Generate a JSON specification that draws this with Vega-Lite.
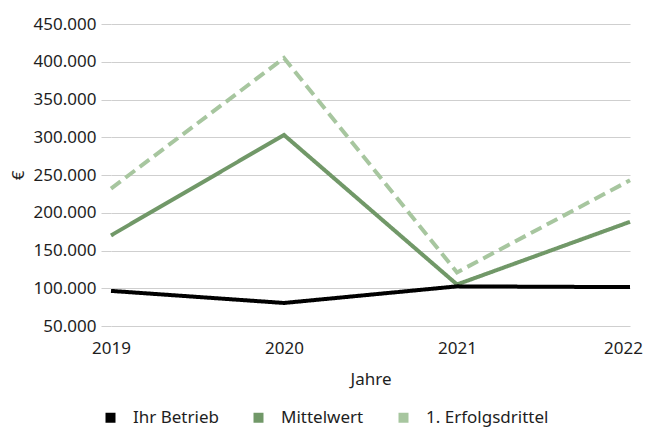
{
  "$schema": "https://vega.github.io/schema/vega-lite/v6.json",
  "autosize": {"type": "none"},
  "width": 519,
  "height": 302,
  "padding": {"left": 111, "top": 24, "right": 16, "bottom": 101},
  "background": "white",
  "config": {
    "font": "Noto Sans",
    "view": {"stroke": null},
    "locale": {"number": {"decimal": ",", "thousands": ".", "grouping": [3], "currency": ["", " €"]}},
    "axis": {"labelFontSize": 17, "titleFontSize": 17, "labelColor": "#1e1e1e", "titleColor": "#1e1e1e", "titleFontWeight": "normal", "labelFont": "Noto Sans", "titleFont": "Noto Sans"},
    "legend": {"labelFontSize": 17, "labelColor": "#1e1e1e", "labelFont": "Noto Sans"}
  },
  "data": {
    "values": [
      {"Jahr": "2019", "Serie": "1. Erfolgsdrittel", "Wert": 232000},
      {"Jahr": "2020", "Serie": "1. Erfolgsdrittel", "Wert": 405000},
      {"Jahr": "2021", "Serie": "1. Erfolgsdrittel", "Wert": 121000},
      {"Jahr": "2022", "Serie": "1. Erfolgsdrittel", "Wert": 243000},
      {"Jahr": "2019", "Serie": "Mittelwert", "Wert": 170000},
      {"Jahr": "2020", "Serie": "Mittelwert", "Wert": 303000},
      {"Jahr": "2021", "Serie": "Mittelwert", "Wert": 105000},
      {"Jahr": "2022", "Serie": "Mittelwert", "Wert": 188000},
      {"Jahr": "2019", "Serie": "Ihr Betrieb", "Wert": 96500},
      {"Jahr": "2020", "Serie": "Ihr Betrieb", "Wert": 80500},
      {"Jahr": "2021", "Serie": "Ihr Betrieb", "Wert": 102500},
      {"Jahr": "2022", "Serie": "Ihr Betrieb", "Wert": 101500}
    ]
  },
  "mark": {"type": "line", "strokeWidth": 4, "strokeCap": "butt", "strokeJoin": "miter"},
  "encoding": {
    "x": {
      "field": "Jahr", "type": "ordinal",
      "scale": {"type": "point", "padding": 0},
      "axis": {
        "title": "Jahre", "labelAngle": 0, "ticks": false, "tickSize": 0, "domain": false, "grid": false, "labelPadding": 14, "titlePadding": 15,
        "labelOffset": {"condition": {"test": "datum.label == '2022'", "value": -7}, "value": 0}
      }
    },
    "y": {
      "field": "Wert", "type": "quantitative",
      "scale": {"domain": [50000, 450000], "nice": false, "zero": false},
      "axis": {
        "title": "€", "values": [50000, 100000, 150000, 200000, 250000, 300000, 350000, 400000, 450000],
        "format": ",.0f", "domain": false, "tickSize": 10, "tickColor": "#cfcfcf", "gridColor": "#cfcfcf",
        "labelPadding": 5, "titlePadding": 6
      }
    },
    "color": {
      "field": "Serie", "type": "nominal",
      "scale": {"domain": ["Ihr Betrieb", "Mittelwert", "1. Erfolgsdrittel"], "range": ["#000000", "#719868", "#a7c69f"]},
      "legend": {
        "title": null, "orient": "none", "legendX": -9, "legendY": 385, "direction": "horizontal",
        "symbolType": "square", "symbolSize": 100, "labelOffset": 14, "columnPadding": 31, "padding": 0,
        "encode": {"symbols": {"update": {"fill": {"scale": "color", "field": "value"}, "strokeWidth": {"value": 0}, "opacity": {"value": 1}}}}
      }
    },
    "strokeDash": {
      "field": "Serie", "type": "nominal",
      "scale": {"domain": ["Ihr Betrieb", "Mittelwert", "1. Erfolgsdrittel"], "range": [[1, 0], [1, 0], [12, 6]]},
      "legend": null
    },
    "order": {"field": "Serie"}
  }
}
